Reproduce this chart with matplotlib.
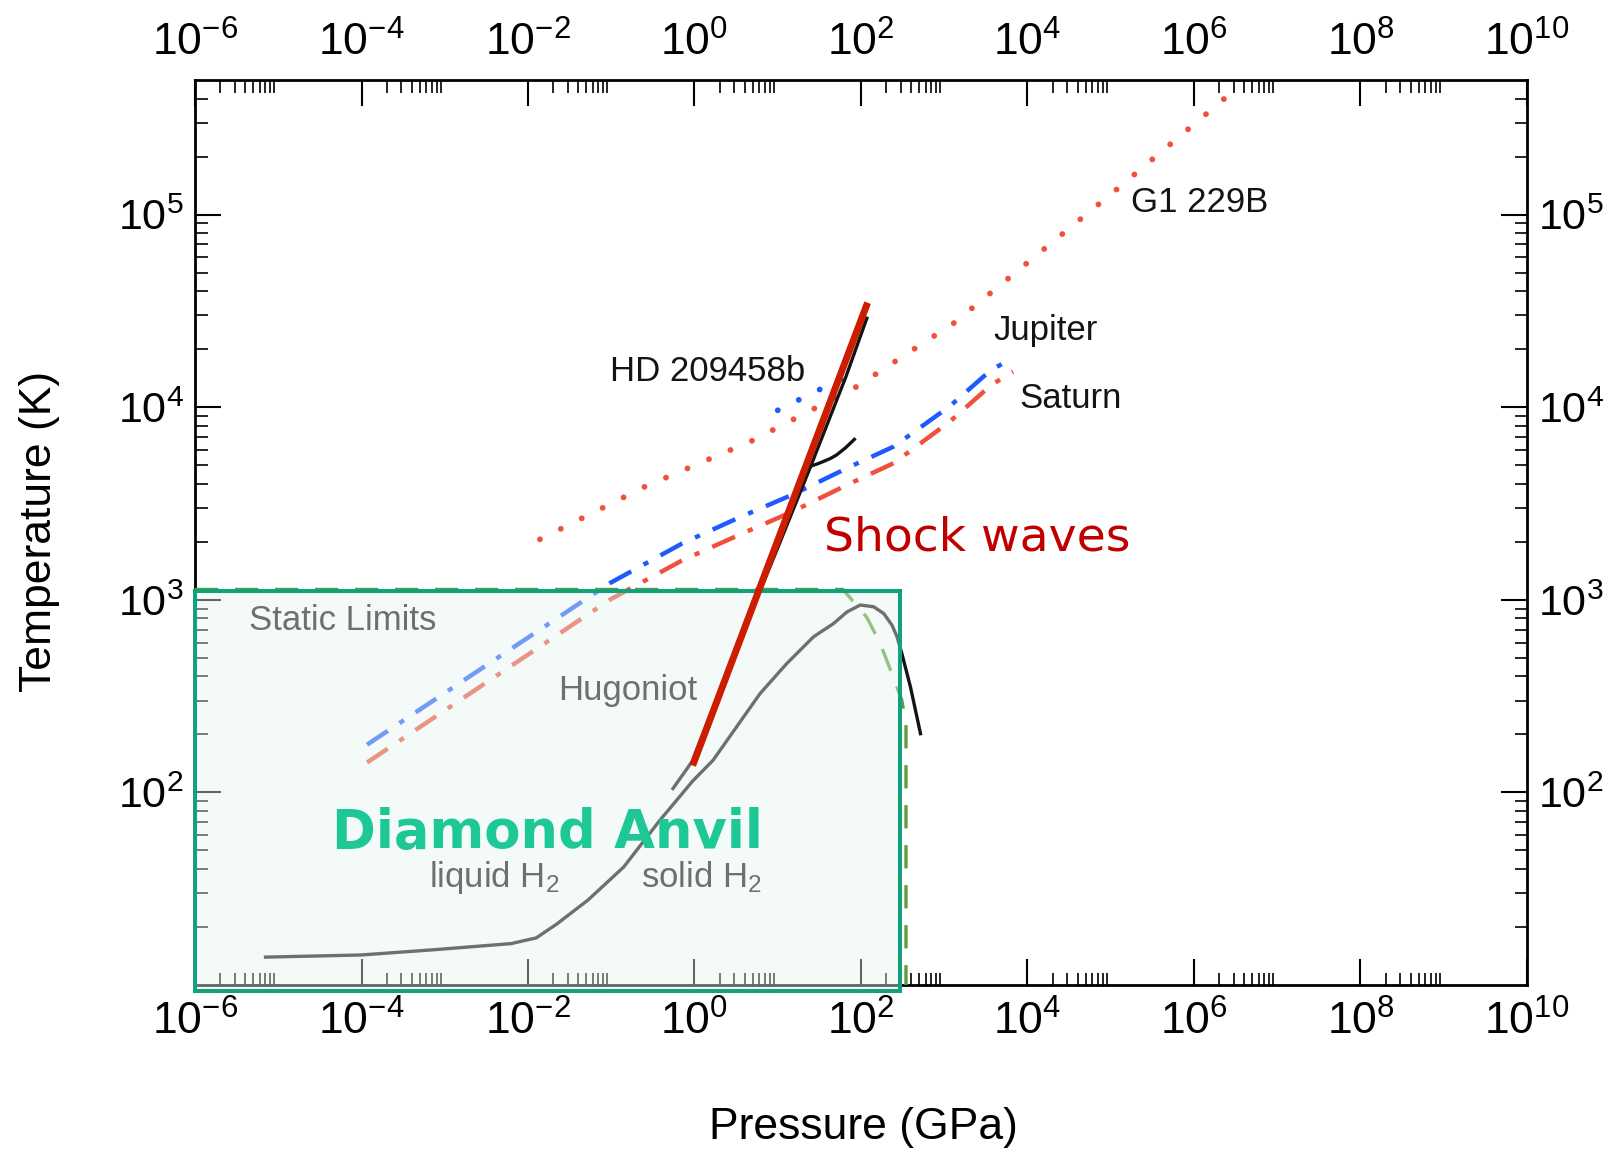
import matplotlib
matplotlib.use("Agg")
import numpy as np
import matplotlib.pyplot as plt
from matplotlib.patches import Rectangle
from matplotlib.ticker import FixedLocator, NullFormatter, FuncFormatter

plt.rcParams["font.family"] = ["Liberation Sans", "DejaVu Sans"]
plt.rcParams["mathtext.default"] = "regular"

# === DATA (pressure in GPa, temperature in K) ===
g1_p = [0.0139, 0.255, 4.86, 86.3, 1306, 1.135e5, 3.70e6]
g1_t = [2061, 3873, 6683, 12706, 27354, 133352, 474242]

jup_p = [1.167e-4, 0.0957, 0.713, 3.35, 14.5, 76.4, 248, 1164, 3664, 6699]
jup_t = [177, 1219, 1963, 2661, 3491, 4943, 6252, 10116, 15631, 17989]

sat_p = [1.167e-4, 0.0957, 0.713, 3.35, 14.5, 76.4, 248, 1164, 3664, 6699]
sat_t = [143, 1000, 1603, 2163, 2851, 4046, 5129, 8414, 13032, 15311]

hd_p = [10.0, 66.1]
hd_t = [9640, 14450]

melt_p = [7.03e-6, 9.84e-5, 7.31e-4, 6.28e-3, 0.0126, 0.0222, 0.0525, 0.1413,
          0.383, 0.951, 1.671, 6.12, 12.82, 26.9, 46.8, 67.8, 97.9, 141.9,
          187.5, 236.0, 271.0, 309.7, 392.6, 518.8]
melt_t = [13.96, 14.32, 15.24, 16.41, 17.58, 20.75, 27.61, 41.02,
          71.6, 114.6, 146.9, 325.8, 466.7, 642.7, 753.4, 865, 939.7, 920.4,
          849.2, 737.9, 642.7, 526, 353.2, 201.8]

hug_p = [0.551, 0.933, 3.98, 10.0, 24.9, 66.1, 117.5]
hug_t = [104.7, 144.5, 708, 1862, 4943, 14454, 28973]
hug2_p = [24.9, 30.0, 35.2, 43.0, 51.2, 65.0, 83.2]
hug2_t = [4943, 5080, 5224, 5420, 5662, 6150, 6808]

static_p = [1e-6, 60.7, 117.5, 170, 245, 309, 347, 347]
static_t = [1132, 1132, 811, 594, 395, 301, 226, 10]

shock_p = [0.95, 120]
shock_t = [138, 34900]

anvil_p = [1e-6, 298]
anvil_t = [9.35, 1114]

x_major = [10.0 ** e for e in range(-6, 11, 2)]
x_minor = [k * 10.0 ** e for e in range(-6, 10, 2) for k in range(2, 10)]
y_major = [1e2, 1e3, 1e4, 1e5]
y_minor = [k * 10.0 ** e for e in range(1, 6) for k in range(2, 10) if k * 10.0 ** e < 4.5e5]

# === COLOURS ===
red = "#f0503c"
blue = "#1f5aff"
black = "#141414"
green_dash = "#5b9f3a"
box_edge = "#11a17d"

fig = plt.figure(figsize=(16.21, 11.51), dpi=100)
ax = fig.add_axes([0.1203, 0.1442, 0.8217, 0.7863])
ax.set_xscale("log")
ax.set_yscale("log")
ax.set_xlim(1e-6, 1e10)
ax.set_ylim(10, 5.0e5)

dot = (0, (0.01, 4.0))
dashdot = (0, (5.6, 3.15, 1.2, 3.15))

# planetary adiabats
ax.plot(g1_p, g1_t, color=red, lw=4.2, ls=dot, dash_capstyle="round", zorder=3)
ax.plot(jup_p, jup_t, color=blue, lw=3.2, ls=dashdot, dash_capstyle="butt", zorder=3)
ax.plot(sat_p, sat_t, color=red, lw=3.2, ls=dashdot, dash_capstyle="butt", zorder=3)
ax.plot(hd_p, hd_t, color=blue, lw=4.2, ls=dot, dash_capstyle="round", zorder=3)

# melt line, Hugoniot, static limits
ax.plot(melt_p, melt_t, color=black, lw=2.4, zorder=3)
ax.plot(hug_p, hug_t, color=black, lw=2.4, zorder=3)
ax.plot(hug2_p, hug2_t, color=black, lw=2.4, zorder=3)
ax.plot(static_p, static_t, color=green_dash, lw=2.4, ls=(0, (7, 5)), zorder=3)

# labels
ax.text(1.76e5, 1.15e5, "G1 229B", fontsize=25, color=black, ha="left", va="center", zorder=3)
ax.text(3880, 25000, "Jupiter", fontsize=25, color=black, ha="left", va="center", zorder=3)
ax.text(7940, 11040, "Saturn", fontsize=25, color=black, ha="left", va="center", zorder=3)
ax.text(21.6, 15240, "HD 209458b", fontsize=25, color=black, ha="right", va="center", zorder=3)
ax.text(4.45e-6, 780, "Static Limits", fontsize=25, color=black, ha="left", va="center", zorder=3)
ax.text(0.0229, 336.5, "Hugoniot", fontsize=25, color=black, ha="left", va="center", zorder=3)
ax.text(6.52e-4, 32.2, "liquid H$_2$", fontsize=25, color=black, ha="left", va="baseline", zorder=3)
ax.text(0.2307, 32.2, "solid H$_2$", fontsize=25, color=black, ha="left", va="baseline", zorder=3)

# diamond anvil box (translucent, over the curves)
w = anvil_p[1] - anvil_p[0]
h = anvil_t[1] - anvil_t[0]
ax.add_patch(Rectangle((anvil_p[0], anvil_t[0]), w, h, facecolor="#e6f4ed", alpha=0.42,
                       edgecolor="none", zorder=4, clip_on=False))
ax.add_patch(Rectangle((anvil_p[0], anvil_t[0]), w, h, fill=False, edgecolor=box_edge,
                       lw=2.9, zorder=5, clip_on=False))

# shock wave line
ax.plot(shock_p, shock_t, color="#cc1d00", lw=5.0, solid_capstyle="butt", zorder=6)

ax.text(4.41e-5, 61.7, "Diamond Anvil", fontsize=38, fontweight="bold", color="#1ec896",
        family="DejaVu Sans", ha="left", va="center", zorder=7)
ax.text(36.2, 2104, "Shock waves", fontsize=34, color="#c00000",
        family="DejaVu Sans", ha="left", va="center", zorder=7)

# ticks
ax.xaxis.set_major_locator(FixedLocator(x_major))
ax.xaxis.set_minor_locator(FixedLocator(x_minor))
ax.yaxis.set_major_locator(FixedLocator(y_major))
ax.yaxis.set_minor_locator(FixedLocator(y_minor))
fmt = FuncFormatter(lambda v, pos: r"$\mathdefault{10^{%d}}$" % int(round(np.log10(v))))
ax.xaxis.set_major_formatter(fmt)
ax.yaxis.set_major_formatter(fmt)
ax.xaxis.set_minor_formatter(NullFormatter())
ax.yaxis.set_minor_formatter(NullFormatter())

ax.tick_params(which="both", direction="in", top=True, right=True,
               labeltop=True, labelright=True, colors="black")
ax.tick_params(which="major", length=19, width=1.5)
ax.tick_params(which="minor", length=9, width=1.2)
ax.tick_params(axis="x", which="major", labelsize=32, pad=11)
ax.tick_params(axis="y", which="major", labelsize=31, pad=8)
for s in ax.spines.values():
    s.set_linewidth(2.0)

fig.text(39.5 / 1621, 1 - 531 / 1151, "Temperature (K)", rotation=90, fontsize=32,
         ha="center", va="center")
fig.text(863 / 1621, 1 - 1128 / 1151, "Pressure (GPa)", fontsize=32, ha="center", va="center")

fig.savefig("out.png", dpi=100)
